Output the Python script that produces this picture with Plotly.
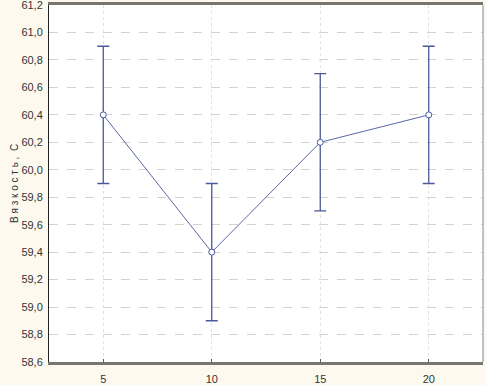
import plotly.graph_objects as go

x_vals = [5, 10, 15, 20]
y_vals = [60.4, 59.4, 60.2, 60.4]
err_vals = [0.5, 0.5, 0.5, 0.5]
y_ticks = [58.6, 58.8, 59.0, 59.2, 59.4, 59.6, 59.8, 60.0, 60.2, 60.4, 60.6, 60.8, 61.0, 61.2]
y_ticklabels = [f"{v:.1f}".replace(".", ",") for v in y_ticks]

line_col = "#4a5a9a"
font_fam = "Liberation Sans Narrow, Arial Narrow, Liberation Sans, sans-serif"

fig = go.Figure()
fig.add_trace(go.Scatter(
    x=x_vals, y=y_vals, mode="lines+markers",
    line=dict(color="#5a68a8", width=1),
    marker=dict(symbol="circle", size=6, color="white",
                line=dict(width=1, color=line_col)),
    error_y=dict(type="data", array=err_vals, visible=True, color=line_col,
                 thickness=1.3, width=6),
    showlegend=False,
))

fig.update_layout(
    width=486, height=385,
    margin=dict(l=49, r=3, t=5, b=23),
    paper_bgcolor="#fdf9ef",
    plot_bgcolor="white",
    font=dict(family=font_fam, size=11, color="#333333"),
    xaxis=dict(
        range=[2.5, 22.5], tickvals=x_vals, ticktext=[str(v) for v in x_vals],
        showgrid=True, gridcolor="#e0e0e6", griddash="dot", gridwidth=1,
        zeroline=False, showline=True, linecolor="#777770", linewidth=3,
        mirror=True, ticks="inside", ticklen=3, tickcolor="#555555",
        automargin=False, ticklabelstandoff=5, ticklabeloverflow="allow",
    ),
    yaxis=dict(
        range=[58.5995, 61.2005], tickvals=y_ticks, ticktext=y_ticklabels,
        showgrid=True, gridcolor="#d2d2d2", griddash="dash", gridwidth=1,
        zeroline=False, showline=True, linecolor="#222222", linewidth=1,
        mirror=False, ticks="", ticklabelstandoff=3, automargin=False,
        ticklabeloverflow="allow",
    ),
    shapes=[
        dict(type="line", xref="paper", yref="paper", x0=1, x1=1, y0=0, y1=1,
             line=dict(color="#888888", width=1)),
    ],
    annotations=[
        dict(text="В я з к о с т ь ,  С", xref="paper", yref="paper",
             x=-42 / 434, y=0.5, textangle=-90, showarrow=False,
             font=dict(size=10, color="#333333", family=font_fam)),
    ],
)

post = ("document.body.style.margin='0';document.body.style.overflow='hidden';"
        "var gd=document.getElementById('{plot_id}');"
        "Plotly.relayout(gd,{width:486,height:385});")

fig.write_html("out.html", config={"responsive": False, "displayModeBar": False},
               post_script=post)
